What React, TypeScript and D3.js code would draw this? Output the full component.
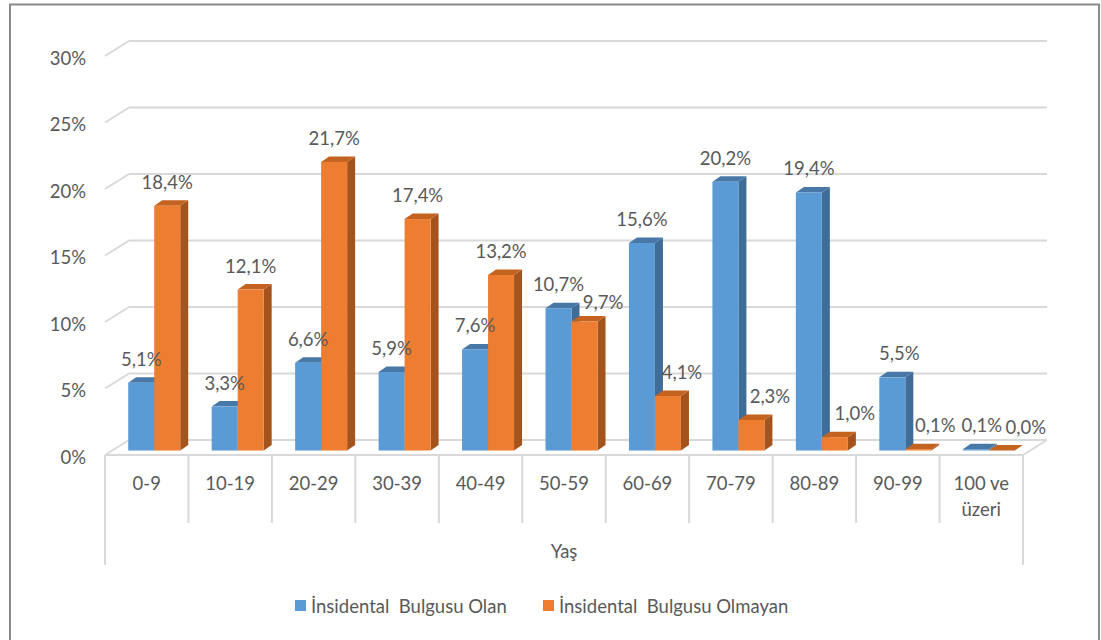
import React from "react";
import * as d3 from "d3";

const categories = ["0-9", "10-19", "20-29", "30-39", "40-49", "50-59", "60-69", "70-79", "80-89", "90-99", "100 ve üzeri"];
const seriesNames = ["İnsidental  Bulgusu Olan", "İnsidental  Bulgusu Olmayan"];
const olan = [5.1, 3.3, 6.6, 5.9, 7.6, 10.7, 15.6, 20.2, 19.4, 5.5, 0.1];
const olmayan = [18.4, 12.1, 21.7, 17.4, 13.2, 9.7, 4.1, 2.3, 1.0, 0.1, 0.0];
const yTicks = [0, 5, 10, 15, 20, 25, 30];
const axisTitle = "Yaş";

const W = 1101;
const H = 640;
const FONT = "Lato, 'Open Sans', sans-serif";
const TXT = "#595959";
const GRID = "#d9d9d9";

const colors = [
  { front: "#5B9BD5", side: "#3F6D98", top: "#4878A8" },
  { front: "#ED7D31", side: "#A5531D", top: "#C4621F" },
];

// label nudges (Excel collision avoidance), keyed by "series-index"
const nudge: Record<string, [number, number]> = {
  "1-5": [18.5, 5],
  "1-6": [14, 0],
  "1-7": [18.5, 0],
  "1-8": [20, 0],
  "0-9": [7, 0],
  "1-9": [17, 0],
  "0-10": [6, 0],
  "1-10": [24, 0],
};

const fmt = (v: number) => v.toFixed(1).replace(".", ",") + "%";

export default function App() {
  const x0 = 105, x1 = 1023;
  const floorFront = 455;
  const depthX = 24, depthY = -15;
  const barDX = 7.5, barDY = -4.5;
  const bdx = 8, bdy = -5.5;
  const barW = 26;

  const xBand = d3.scaleBand<string>().domain(categories).range([x0, x1]).padding(0);
  const yH = d3.scaleLinear().domain([0, 30]).range([0, 399]);
  const ySeries = d3.scaleBand<number>().domain([0, 1]).range([-barW, barW]).padding(0);

  const frontY = (v: number) => floorFront - yH(v);
  const backY = (v: number) => floorFront + depthY - yH(v);

  const bars: JSX.Element[] = [];
  const labels: JSX.Element[] = [];
  categories.forEach((c, i) => {
    const center = (xBand(c) as number) + xBand.bandwidth() / 2 + barDX;
    [olan, olmayan].forEach((arr, s) => {
      const v = arr[i];
      const xl = center + (ySeries(s) as number);
      const xr = xl + barW;
      const yb = floorFront + barDY;
      const yt = yb - yH(v);
      const col = colors[s];
      bars.push(
        <g key={`b-${s}-${i}`}>
          {v > 0 && (
            <polygon
              points={`${xr},${yb} ${xr + bdx},${yb + bdy} ${xr + bdx},${yt + bdy} ${xr},${yt}`}
              fill={col.side}
            />
          )}
          <polygon
            points={`${xl},${yt} ${xr},${yt} ${xr + bdx},${yt + bdy} ${xl + bdx},${yt + bdy}`}
            fill={col.top}
          />
          {v > 0 && <rect x={xl} y={yt} width={barW} height={yb - yt} fill={col.front} />}
        </g>
      );
      const n = nudge[`${s}-${i}`] || [0, 0];
      labels.push(
        <text
          key={`l-${s}-${i}`}
          x={(xl + xr) / 2 + n[0]}
          y={yt - 24 + n[1]}
          textAnchor="middle"
          dominantBaseline="central"
          fontSize={18.5}
          fill={TXT}
          fontFamily={FONT}
        >
          {fmt(v)}
        </text>
      );
    });
  });

  const bandEdges = categories.map((c) => xBand(c) as number).concat([x1]);

  return (
    <svg width={W} height={H} style={{ position: "absolute", left: 0, top: 0, background: "#fff" }}>
      <rect x={0} y={0} width={W} height={H} fill="#fff" />
      <rect x={10} y={4.5} width={1089} height={700} fill="#fff" stroke="#8a8a8a" strokeWidth={2} />

      {/* gridlines */}
      {yTicks.map((t) => (
        <g key={`g-${t}`}>
          <line x1={x0 + depthX} x2={x1 + depthX} y1={backY(t)} y2={backY(t)} stroke={GRID} strokeWidth={2} />
          <line x1={x0} x2={x0 + depthX} y1={frontY(t)} y2={backY(t)} stroke={GRID} strokeWidth={2} />
          <text
            x={86}
            y={frontY(t) + 1.5}
            textAnchor="end"
            dominantBaseline="central"
            fontSize={18.5}
            fill={TXT}
            fontFamily={FONT}
          >
            {t}%
          </text>
        </g>
      ))}
      <line x1={x0} x2={x1} y1={floorFront} y2={floorFront} stroke={GRID} strokeWidth={2} />
      <line x1={x1} x2={x1 + depthX} y1={floorFront} y2={floorFront + depthY} stroke={GRID} strokeWidth={2} />

      {/* category dividers */}
      {bandEdges.map((e, k) => (
        <line
          key={`d-${k}`}
          x1={e}
          x2={e}
          y1={floorFront}
          y2={k === 0 || k === bandEdges.length - 1 ? 565 : 523}
          stroke={GRID}
          strokeWidth={2}
        />
      ))}

      {bars}
      {labels}

      {/* category labels */}
      {categories.map((c) => {
        const cx = (xBand(c) as number) + xBand.bandwidth() / 2;
        const parts = c === "100 ve üzeri" ? ["100 ve", "üzeri"] : [c];
        return (
          <text key={`c-${c}`} x={cx} y={483} textAnchor="middle" dominantBaseline="central" fontSize={18.5} fill={TXT} fontFamily={FONT}>
            {parts.map((p, j) => (
              <tspan key={j} x={cx} dy={j === 0 ? 0 : 26}>
                {p}
              </tspan>
            ))}
          </text>
        );
      })}

      <text x={(x0 + x1) / 2} y={551} textAnchor="middle" dominantBaseline="central" fontSize={18.5} fill={TXT} fontFamily={FONT}>
        {axisTitle}
      </text>

      {/* legend */}
      {seriesNames.map((nm, s) => {
        const lx = s === 0 ? 295 : 543;
        return (
          <g key={`lg-${s}`}>
            <rect x={lx} y={600} width={11} height={11} fill={colors[s].front} />
            <text x={lx + 16} y={606} dominantBaseline="central" fontSize={18.5} fill={TXT} fontFamily={FONT} style={{ whiteSpace: "pre" }}>
              {nm}
            </text>
          </g>
        );
      })}
    </svg>
  );
}
